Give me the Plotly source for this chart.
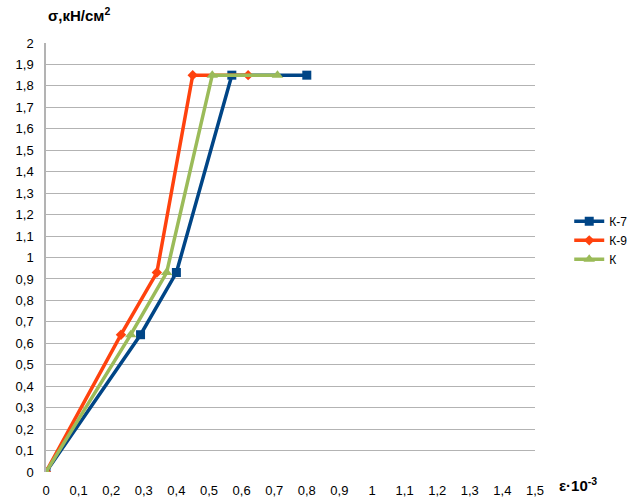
import plotly.graph_objects as go

# Strain (ε·10^-3) and stress (σ, кН/см²) for each specimen
eps_k7 = [0, 0.29, 0.40, 0.57, 0.80]
sig_k7 = [0, 0.64, 0.93, 1.85, 1.85]

eps_k9 = [0, 0.23, 0.34, 0.45, 0.62]
sig_k9 = [0, 0.64, 0.93, 1.85, 1.85]

eps_k = [0, 0.26, 0.37, 0.51, 0.71]
sig_k = [0, 0.64, 0.93, 1.85, 1.85]

x_ticks = [round(i * 0.1, 1) for i in range(16)]
y_ticks = [round(i * 0.1, 1) for i in range(21)]

fig = go.Figure()
fig.add_trace(go.Scatter(x=eps_k7, y=sig_k7, name="К-7", mode="lines+markers",
                         line=dict(color="#004586", width=3.5),
                         marker=dict(symbol="square", size=9, color="#004586")))
fig.add_trace(go.Scatter(x=eps_k9, y=sig_k9, name="К-9", mode="lines+markers",
                         line=dict(color="#ff420e", width=3.5),
                         marker=dict(symbol="diamond", size=8, color="#ff420e")))
fig.add_trace(go.Scatter(x=eps_k, y=sig_k, name="К", mode="lines+markers",
                         line=dict(color="#9bbb59", width=3.5),
                         marker=dict(symbol="triangle-up", size=10, color="#9bbb59")))

fig.update_layout(
    width=627, height=497,
    margin=dict(l=46, r=92, t=43, b=25, autoexpand=False),
    paper_bgcolor="white", plot_bgcolor="white",
    separators=", ",
    font=dict(family="Liberation Sans, Arial, sans-serif", size=13, color="#000"),
    showlegend=True,
    legend=dict(x=1.07, y=0.54, xanchor="left", yanchor="middle",
                font=dict(size=12), tracegroupgap=0, itemwidth=30,
                bgcolor="rgba(0,0,0,0)"),
    xaxis=dict(range=[0, 1.5], tickvals=x_ticks, showgrid=False, zeroline=False,
               showline=False, ticks="outside", ticklen=6,
               tickcolor="rgba(0,0,0,0)", automargin=False,
               tickfont=dict(size=13)),
    yaxis=dict(range=[0, 2], tickvals=y_ticks, showgrid=True, gridcolor="#b3b3b3",
               gridwidth=1, zeroline=False, showline=True, linecolor="#b3b3b3",
               linewidth=1.5, ticks="outside", ticklen=8,
               tickcolor="rgba(0,0,0,0)", automargin=False,
               tickfont=dict(size=13)),
    annotations=[
        dict(text="<b>σ,кН/см<sup>2</sup></b>", xref="paper", yref="paper",
             x=-0.001, y=1.04, xanchor="left", yanchor="bottom", showarrow=False,
             font=dict(size=15)),
        dict(text="<b>ε·10<sup>-3</sup></b>", xref="paper", yref="paper",
             x=1.045, y=-0.03, xanchor="left", yanchor="middle", showarrow=False,
             font=dict(size=15)),
    ],
)

fig.write_html("out.html")
